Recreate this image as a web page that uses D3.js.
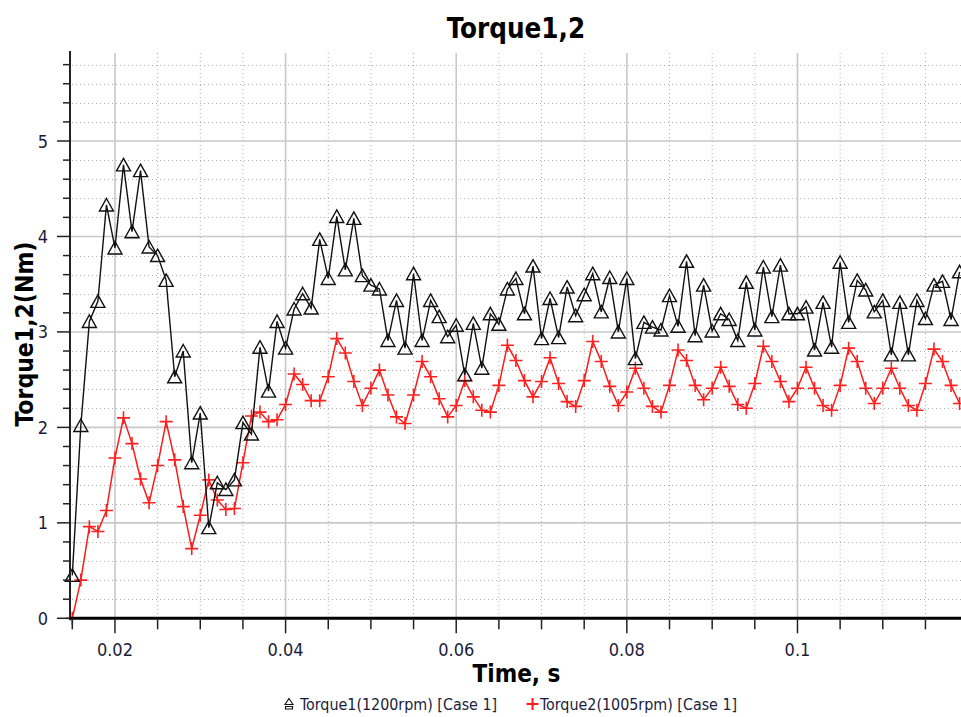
<!DOCTYPE html>
<html><head><meta charset="utf-8">
<script src="https://cdn.jsdelivr.net/npm/d3@7"></script>
<style>
html,body{margin:0;padding:0;background:#fff;}
svg{display:block;font-family:"DejaVu Sans Condensed","DejaVu Sans",sans-serif;font-stretch:condensed;}
</style></head><body>
<svg id="c" width="961" height="717"></svg>
<script>
const time = [0.015,0.016,0.017,0.018,0.019,0.020,0.021,0.022,0.023,0.024,0.025,0.026,0.027,0.028,0.029,
0.030,0.031,0.032,0.033,0.034,0.035,0.036,0.037,0.038,0.039,0.040,0.041,0.042,0.043,0.044,
0.045,0.046,0.047,0.048,0.049,0.050,0.051,0.052,0.053,0.054,0.055,0.056,0.057,0.058,0.059,
0.060,0.061,0.062,0.063,0.064,0.065,0.066,0.067,0.068,0.069,0.070,0.071,0.072,0.073,0.074,
0.075,0.076,0.077,0.078,0.079,0.080,0.081,0.082,0.083,0.084,0.085,0.086,0.087,0.088,0.089,
0.090,0.091,0.092,0.093,0.094,0.095,0.096,0.097,0.098,0.099,0.100,0.101,0.102,0.103,0.104,
0.105,0.106,0.107,0.108,0.109,0.110,0.111,0.112,0.113,0.114,0.115,0.116,0.117,0.118,0.119];

const torque1 = [0.45,2.02,3.11,3.32,4.33,3.88,4.75,4.05,4.69,3.89,3.80,3.54,2.53,2.80,1.63,
2.15,0.95,1.42,1.35,1.45,2.05,1.93,2.84,2.38,3.11,2.83,3.24,3.40,3.25,3.97,
3.56,4.21,3.65,4.19,3.59,3.49,3.45,2.91,3.33,2.83,3.61,2.91,3.33,3.16,2.95,
3.07,2.55,3.09,2.62,3.19,3.08,3.45,3.56,3.19,3.69,2.93,3.35,2.94,3.47,3.17,
3.39,3.61,3.21,3.57,3.00,3.56,2.72,3.10,3.05,3.02,3.38,3.06,3.74,2.96,3.49,
3.01,3.19,3.13,2.91,3.52,3.02,3.68,3.16,3.70,3.19,3.19,3.26,2.81,3.31,2.84,
3.73,3.10,3.54,3.44,3.21,3.33,2.76,3.31,2.76,3.33,3.14,3.49,3.53,3.13,3.63];

const torque2 = [0.00,0.40,0.96,0.91,1.13,1.68,2.10,1.83,1.46,1.21,1.60,2.06,1.66,1.17,0.73,
1.08,1.45,1.24,1.14,1.15,1.63,2.12,2.16,2.06,2.08,2.24,2.56,2.45,2.28,2.28,
2.53,2.93,2.78,2.48,2.23,2.41,2.60,2.34,2.11,2.04,2.34,2.69,2.53,2.30,2.11,
2.23,2.49,2.32,2.18,2.16,2.44,2.86,2.70,2.49,2.32,2.48,2.73,2.46,2.27,2.22,
2.49,2.90,2.69,2.43,2.23,2.37,2.62,2.41,2.22,2.16,2.44,2.81,2.70,2.44,2.29,
2.41,2.63,2.43,2.24,2.20,2.46,2.85,2.69,2.48,2.27,2.41,2.63,2.41,2.23,2.18,
2.44,2.83,2.69,2.41,2.25,2.41,2.62,2.41,2.23,2.18,2.46,2.82,2.69,2.44,2.25];

const xMajorTicks = [0.02,0.04,0.06,0.08,0.1];
const xTickLabels = ["0.02","0.04","0.06","0.08","0.1"];
const xMinorTicks = [0.015,0.025,0.03,0.035,0.045,0.05,0.055,0.065,0.07,0.075,0.085,0.09,0.095,0.105,0.11,0.115];
const yTicks = [0,1,2,3,4,5];
const yTickLabels = ["0","1","2","3","4","5"];
const yMinorTicks = [0.2,0.4,0.6,0.8,1.2,1.4,1.6,1.8,2.2,2.4,2.6,2.8,3.2,3.4,3.6,3.8,4.2,4.4,4.6,4.8,5.2,5.4,5.6,5.8];
const seriesNames = ["Torque1(1200rpm) [Case 1]","Torque2(1005rpm) [Case 1]"];
const titleText = "Torque1,2";
const xLabel = "Time, s";
const yLabel = "Torque1,2(Nm)";

const svg = d3.select("#c");
const x = d3.scaleLinear().domain([0.015, 0.11905]).range([72.3, 960]);
const y = d3.scaleLinear().domain([0, 5.943]).range([618.3, 51]);
const pTop = 51, pBottom = 618.3, pLeft = 70, pRight = 961;

svg.append("rect").attr("width",961).attr("height",717).attr("fill","#fff");

// minor grid
const g = svg.append("g");
g.selectAll(".vx").data(xMinorTicks.filter(d=>d>0.016)).join("line")
  .attr("x1",d=>x(d)).attr("x2",d=>x(d)).attr("y1",pTop+2).attr("y2",pBottom)
  .attr("stroke","#b0b0b0").attr("stroke-width",1).attr("stroke-dasharray","1,3");
g.selectAll(".hy").data(yMinorTicks).join("line")
  .attr("x1",pLeft+2).attr("x2",pRight).attr("y1",d=>Math.round(y(d))+0.5).attr("y2",d=>Math.round(y(d))+0.5)
  .attr("stroke","#b0b0b0").attr("stroke-width",1).attr("stroke-dasharray","1,3");
// major grid
g.selectAll(".mx").data(xMajorTicks).join("line")
  .attr("x1",d=>x(d)).attr("x2",d=>x(d)).attr("y1",pTop+2).attr("y2",pBottom)
  .attr("stroke","#c8c8c8").attr("stroke-width",1.6);
g.selectAll(".my").data(yTicks.filter(d=>d>0)).join("line")
  .attr("x1",pLeft).attr("x2",pRight).attr("y1",d=>y(d)).attr("y2",d=>y(d))
  .attr("stroke","#c8c8c8").attr("stroke-width",1.6);

// series
const line = d3.line().x((d,i)=>x(time[i])).y(d=>y(d));
svg.append("path").datum(torque2).attr("d",line).attr("fill","none")
  .attr("stroke","#ff1a1a").attr("stroke-width",1.5);
svg.append("g").selectAll("path").data(torque2).join("path")
  .attr("transform",(d,i)=>`translate(${x(time[i])},${y(d)})`)
  .attr("d","M-6.5,0H6.5M0,-6.5V6.5").attr("stroke","#ff2020").attr("stroke-width",1.6).attr("fill","none");

svg.append("path").datum(torque1).attr("d",line).attr("fill","none")
  .attr("stroke","#111").attr("stroke-width",1.4);
svg.append("g").selectAll("path").data(torque1).join("path")
  .attr("transform",(d,i)=>`translate(${x(time[i])},${y(d)})`)
  .attr("d","M0,-6.5L7,6L-7,6Z").attr("stroke","#111").attr("stroke-width",1.4).attr("fill","none");

// axes
const labelColor = "#1c1c3a";
svg.append("line").attr("x1",pLeft).attr("x2",pLeft).attr("y1",pTop).attr("y2",pBottom+2)
  .attr("stroke","#222").attr("stroke-width",2);
svg.selectAll(".ytm").data(yTicks).join("line")
  .attr("x1",57).attr("x2",pLeft).attr("y1",d=>y(d)).attr("y2",d=>y(d))
  .attr("stroke","#222").attr("stroke-width",1.5);
svg.selectAll(".ytn").data(yMinorTicks).join("line")
  .attr("x1",63).attr("x2",pLeft).attr("y1",d=>y(d)).attr("y2",d=>y(d))
  .attr("stroke","#222").attr("stroke-width",1.5);
svg.selectAll(".ytl").data(yTicks).join("text")
  .attr("x",48).attr("y",d=>y(d)+6.5).attr("text-anchor","end")
  .attr("font-size",18).attr("fill",labelColor).text((d,i)=>yTickLabels[i]);

svg.append("line").attr("x1",pLeft).attr("x2",pRight).attr("y1",pBottom).attr("y2",pBottom)
  .attr("stroke","#000").attr("stroke-width",3);
svg.selectAll(".xtm").data(xMinorTicks).join("line")
  .attr("x1",d=>x(d)).attr("x2",d=>x(d)).attr("y1",pBottom).attr("y2",pBottom+11)
  .attr("stroke","#222").attr("stroke-width",1.5);
svg.selectAll(".xtj").data(xMajorTicks).join("line")
  .attr("x1",d=>x(d)).attr("x2",d=>x(d)).attr("y1",pBottom).attr("y2",pBottom+15)
  .attr("stroke","#222").attr("stroke-width",1.5);
svg.selectAll(".xtl").data(xMajorTicks).join("text")
  .attr("x",d=>x(d)).attr("y",656).attr("text-anchor","middle")
  .attr("font-size",18).attr("fill",labelColor).text((d,i)=>xTickLabels[i]);

// titles
svg.append("text").attr("x",516).attr("y",37.5).attr("text-anchor","middle")
  .attr("font-size",27.5).attr("font-weight","bold").attr("fill","#000").text(titleText);
svg.append("text").attr("x",516.5).attr("y",682).attr("text-anchor","middle")
  .attr("font-size",24).attr("font-weight","bold").attr("fill","#000").text(xLabel);
svg.append("text").attr("transform","translate(33,334) rotate(-90)").attr("text-anchor","middle")
  .attr("font-size",24.5).attr("font-weight","bold").attr("fill","#000").text(yLabel);

// legend
const lg = svg.append("g");
lg.append("path").attr("d","M289,698.5L293,704.5L285,704.5Z M285.5,706.5H292.5V709H285.5Z")
  .attr("fill","none").attr("stroke","#111").attr("stroke-width",1.1);
lg.append("text").attr("x",300).attr("y",710).attr("font-size",15.9).attr("fill",labelColor).text(seriesNames[0]);
lg.append("path").attr("d","M526.5,704H538.5M532.5,698V710").attr("stroke","#ff1a1a").attr("stroke-width",2);
lg.append("text").attr("x",540).attr("y",710).attr("font-size",15.9).attr("fill",labelColor).text(seriesNames[1]);
</script>
</body></html>
